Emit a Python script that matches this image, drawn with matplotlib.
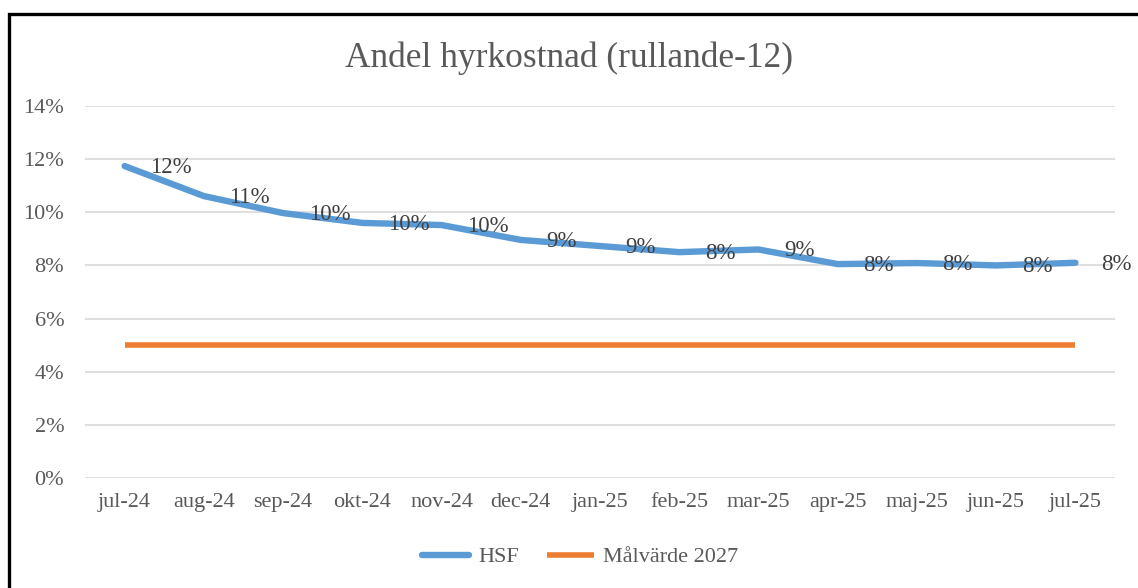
import matplotlib
matplotlib.use("Agg")
import matplotlib.pyplot as plt
from matplotlib.patches import Rectangle
from matplotlib.ticker import FuncFormatter, MultipleLocator

months = ["jul-24", "aug-24", "sep-24", "okt-24", "nov-24", "dec-24", "jan-25",
          "feb-25", "mar-25", "apr-25", "maj-25", "jun-25", "jul-25"]
hsf = [0.1174, 0.1061, 0.0997, 0.0960, 0.0952, 0.0896, 0.0873,
       0.0850, 0.0860, 0.0805, 0.0809, 0.0800, 0.0810]
target = [0.05] * len(months)
title = "Andel hyrkostnad (rullande-12)"

FONT = ["Liberation Serif", "DejaVu Serif"]
TXT = "#595959"
W, H = 1138, 588

fig = plt.figure(figsize=(W / 100, H / 100), dpi=100)
fig.patch.set_facecolor("white")
ax = fig.add_axes([85 / W, 1 - 478 / H, (1115 - 85) / W, (478 - 106) / H])

x = list(range(len(months)))
ax.plot(x, hsf, color="#5B9BD5", lw=4.6, solid_capstyle="round",
        solid_joinstyle="round", label="HSF", zorder=3)
ax.plot(x, target, color="#ED7D31", lw=4.0, solid_capstyle="butt",
        label="Målvärde 2027", zorder=3)

for xi, v in zip(x, hsf):
    ax.annotate(f"{v * 100:.0f}%", (xi, v), xytext=(18.5, -1), textcoords="offset points",
                ha="left", va="center", fontsize=16.5, color="#404040",
                family=FONT, zorder=4, annotation_clip=False)

ax.set_xlim(-0.5, len(months) - 0.5)
ax.set_ylim(0, 0.14)
ax.yaxis.set_major_locator(MultipleLocator(0.02))
ax.yaxis.set_major_formatter(FuncFormatter(lambda v, p: f"{v * 100:.0f}%"))
ax.set_xticks(x)
ax.set_xticklabels(months)
ax.grid(axis="y", color="#d9d9d9", lw=1.2, zorder=0)
for s in ax.spines.values():
    s.set_visible(False)
ax.tick_params(length=0, labelsize=16, labelcolor=TXT)
ax.tick_params(axis="x", pad=11)
ax.tick_params(axis="y", pad=15)
for lab in ax.get_xticklabels() + ax.get_yticklabels():
    lab.set_family(FONT)

fig.text(0.5, 1 - 58 / H, title, ha="center", va="center", fontsize=25.5,
         color=TXT, family=FONT)

leg = fig.legend(loc="center", bbox_to_anchor=(580 / W, 1 - 557 / H), ncol=2,
                 frameon=False, prop={"family": FONT, "size": 16},
                 handlelength=2.15, columnspacing=1.25, handletextpad=0.4)
for t in leg.get_texts():
    t.set_color(TXT)

fig.patches.append(Rectangle((8.5, -20), W + 20, H - 13.5 + 20, transform=None,
                             fill=False, edgecolor="black", lw=2.4))

fig.savefig("out.png", dpi=100)
